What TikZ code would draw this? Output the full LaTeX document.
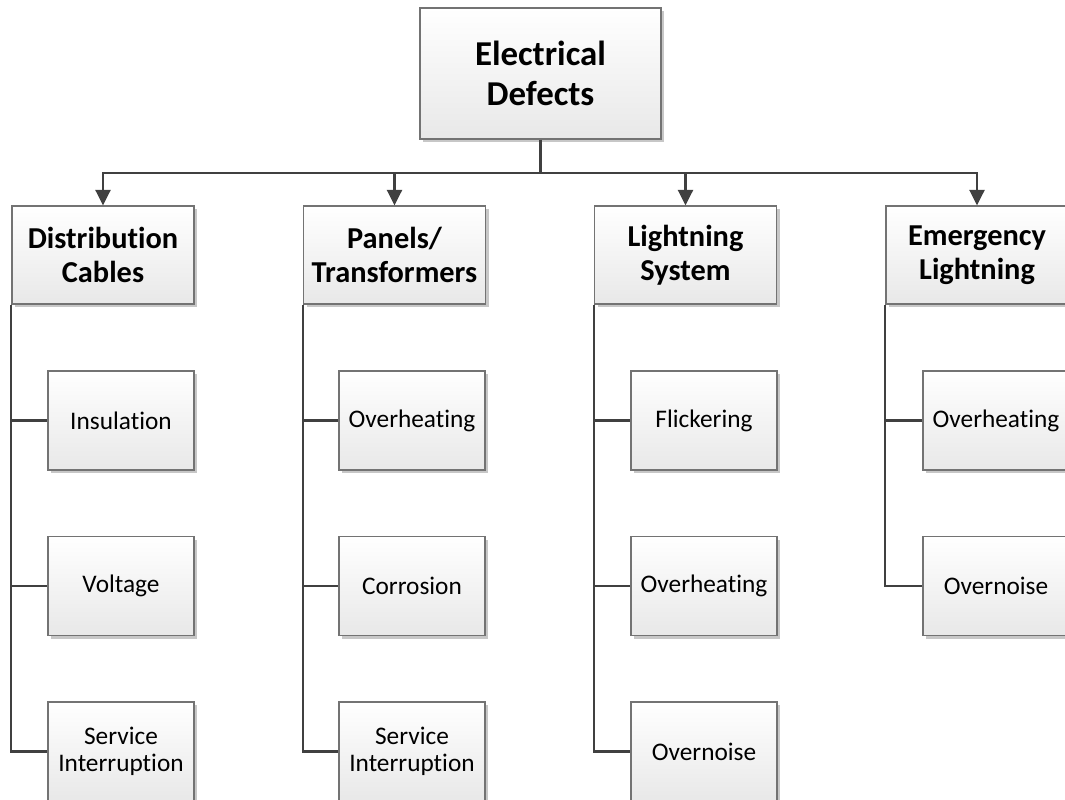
\documentclass[tikz,border=0pt]{standalone}
\usepackage{fontspec}
\setmainfont{Carlito}[RawFeature={-liga;-clig;-dlig;-calt;-rlig}]
\usetikzlibrary{arrows.meta,shadows}

\begin{document}
\begin{tikzpicture}[x=0.025cm,y=-0.025cm,
  box/.style={rectangle,draw=black!55,line width=0.8pt,top color=white,bottom color=black!9,
    drop shadow={shadow xshift=2.2pt,shadow yshift=-2.2pt,fill=black!22,opacity=1},
    align=center,inner sep=0pt},
  root node/.style={box,minimum width=6.025cm,minimum height=3.275cm,
    font=\fontsize{24.8}{28}\selectfont\bfseries},
  main node/.style={box,minimum width=4.55cm,minimum height=2.45cm,
    font=\fontsize{21.6}{24}\selectfont\bfseries},
  sub node/.style={box,minimum width=3.65cm,minimum height=2.475cm,
    font=\fontsize{18}{19.5}\selectfont},
  trunk/.style={draw=black!75,line width=2pt},
  branch/.style={draw=black!75,line width=1.5pt},
  bus edge/.style={trunk,-{Triangle[width=10.5pt,length=11pt]},to path={-| (\tikztotarget)}},
  side edge/.style={branch,to path={|- (\tikztotarget)}}]

  \useasboundingbox (0,0) rectangle (1065,800);
  \clip (0,0) rectangle (1065,800);

  \node[root node] (n0) at (540.5,73.5) {Electrical\\Defects};
  \coordinate (bus) at (540.5,173);

  \node[main node] (n1) at (103,255) {Distribution\\Cables};
  \node[main node] (n2) at (394.5,255) {Panels/\\Transformers};
  \node[main node] (n3) at (685.5,255) {Lightning\\System};
  \node[main node] (n4) at (977,255) {Emergency\\Lightning};

  \node[sub node] (n5) at (121,420.5) {Insulation};
  \node[sub node] (n6) at (121,586) {Voltage};
  \node[sub node] (n7) at (121,751.5) {Service\\Interruption};

  \node[sub node] (n8) at (412,420.5) {Overheating};
  \node[sub node] (n9) at (412,586) {Corrosion};
  \node[sub node] (n10) at (412,751.5) {Service\\Interruption};

  \node[sub node] (n11) at (704,420.5) {Flickering};
  \node[sub node] (n12) at (704,586) {Overheating};
  \node[sub node] (n13) at (704,751.5) {Overnoise};

  \node[sub node] (n14) at (996,420.5) {Overheating};
  \node[sub node] (n15) at (996,586) {Overnoise};

  \path[]
  (n0.south) edge [trunk] (bus)
  (bus) edge [bus edge] (n1.north)
  (bus) edge [bus edge] (n2.north)
  (bus) edge [bus edge] (n3.north)
  (bus) edge [bus edge] (n4.north);

  \path[]
  (n1.south west) edge [side edge] (n5.west)
  (n1.south west) edge [side edge] (n6.west)
  (n1.south west) edge [side edge] (n7.west)
  (n2.south west) edge [side edge] (n8.west)
  (n2.south west) edge [side edge] (n9.west)
  (n2.south west) edge [side edge] (n10.west)
  (n3.south west) edge [side edge] (n11.west)
  (n3.south west) edge [side edge] (n12.west)
  (n3.south west) edge [side edge] (n13.west)
  (n4.south west) edge [side edge] (n14.west)
  (n4.south west) edge [side edge] (n15.west);
\end{tikzpicture}
\end{document}
